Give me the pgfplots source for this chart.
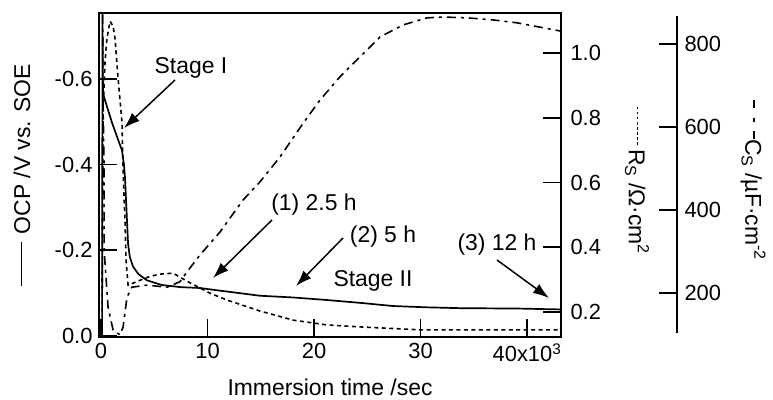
\documentclass[border=0pt]{standalone}
\usepackage{pgfplots}
\pgfplotsset{compat=1.18}
\usepackage{fontspec}
\setmainfont{Liberation Sans}
\usetikzlibrary{arrows.meta}

\newcommand{\solidkey}{\rule[0.34em]{1.9em}{0.07em}}
\newcommand{\dotkey}{\hbox to 1.9em{\leaders\hbox to 0.22em{\hss\rule[0.34em]{0.11em}{0.07em}\hss}\hfill}}
\newcommand{\dashdotkey}{\rule[0.34em]{0.35em}{0.07em}\hspace{0.42em}\rule[0.34em]{0.18em}{0.07em}\hspace{0.42em}\rule[0.34em]{0.35em}{0.07em}}

\pgfplotstableread{
t ocp
100 0.0
140 -0.77
170 -0.60
190 -0.565
500 -0.54
1000 -0.50
1500 -0.465
1970 -0.433
2150 -0.40
2250 -0.37
2400 -0.29
2540 -0.215
2700 -0.185
3000 -0.162
3500 -0.145
4300 -0.130
5700 -0.119
7500 -0.114
9300 -0.112
10800 -0.107
12400 -0.102
14900 -0.094
18000 -0.090
21200 -0.084
24500 -0.077
27400 -0.070
30500 -0.067
33700 -0.065
39300 -0.064
43200 -0.062
}\ocptable

\pgfplotstableread{
t rs
100 0.20
190 0.82
380 0.975
560 1.046
850 1.098
1130 1.083
1310 1.046
1600 0.923
1970 0.785
2070 0.637
2250 0.483
2350 0.36
2540 0.283
3000 0.289
3660 0.298
4600 0.310
5540 0.317
6760 0.320
8080 0.295
10240 0.258
11830 0.237
14930 0.203
18030 0.175
21220 0.160
24320 0.154
29950 0.145
39340 0.145
43200 0.145
}\rstable

\pgfplotstableread{
t cs
150 870
190 665
280 513
290 304
660 166
1130 111
1780 99
2070 118
2440 190
2900 214
4300 219
6200 214
7400 227
8080 251
9300 292
11170 347
13330 424
14930 468
16810 528
18870 605
20560 665
22440 721
24040 762
26200 817
28360 846
30610 863
32110 865
34370 863
36810 858
39060 851
42160 836
43190 831
}\cstable

\begin{document}
\begin{tikzpicture}[x=1bp,y=1bp]
\path[use as bounding box] (0,0) rectangle (773,399);
\pgfplotsset{
  common/.style={
    scale only axis,
    tick align=inside,
    major tick length=18bp,
    minor tick num=0,
    axis line style={line width=1.6pt},
    tick style={line width=1.6pt, black},
    ticklabel style={font=\fontsize{22}{26}\selectfont},
    scaled x ticks=false, scaled y ticks=false,
  }
}
% OCP axis
\begin{axis}[common,
  at={(99bp,62bp)}, anchor=south west, width=462bp, height=324bp,
  xmin=-190, xmax=43190, ymin=-0.7535, ymax=0.0023, y dir=reverse,
  xtick={0,10000,20000,30000,40000},
  xticklabels={0,10,20,30,40x10\textsuperscript{3}},
  ytick={-0.6,-0.4,-0.2,0}, yticklabels={-0.6,-0.4,-0.2,0.0},
  tick pos=left,
  yticklabel style={xshift=-3bp},
  xticklabel style={yshift=-3bp},
]
\addplot[black, line width=1.7pt] table[x=t,y=ocp] {\ocptable};
\end{axis}
% Rs axis
\begin{axis}[common,
  at={(99bp,62bp)}, anchor=south west, width=462bp, height=324bp,
  xmin=-190, xmax=43190, ymin=0.1228, ymax=1.1236,
  axis x line=none, axis y line*=right,
  ytick={0.2,0.4,0.6,0.8,1.0}, yticklabels={0.2,0.4,0.6,0.8,1.0},
  yticklabel style={xshift=6bp},
]
\addplot[black, line width=1.6pt, dash pattern=on 4pt off 3.5pt] table[x=t,y=rs] {\rstable};
\end{axis}
% Cs data axis
\begin{axis}[common,
  at={(99bp,62bp)}, anchor=south west, width=462bp, height=324bp,
  xmin=-190, xmax=43190, ymin=94, ymax=874.7,
  hide axis,
]
\addplot[black, line width=1.6pt, dash pattern=on 9pt off 5pt on 3pt off 5pt] table[x=t,y=cs] {\cstable};
\end{axis}
% Cs scale axis
\begin{axis}[common,
  at={(677bp,66bp)}, anchor=south east, width=20bp, height=317bp,
  xmin=0, xmax=1, ymin=103.6, ymax=867.5,
  axis x line=none, axis y line*=right,
  ytick={200,400,600,800}, yticklabels={200,400,600,800},
  yticklabel style={xshift=4bp},
]
\addplot[draw=none] coordinates {(0.5,500)};
\end{axis}
% axis labels
\node[rotate=90, font=\fontsize{23}{27}\selectfont, inner sep=0] at (22,224) {\solidkey\hspace{0.35em}OCP /V vs. SOE};
\node[rotate=-90, font=\fontsize{23}{27}\selectfont, inner sep=0] at (637,219) {\dotkey R\textsubscript{S} /Ω·cm\textsuperscript{2}};
\node[rotate=-90, font=\fontsize{23}{27}\selectfont, inner sep=0] at (753,219) {\dashdotkey C\textsubscript{S} /µF·cm\textsuperscript{-2}};
\node[anchor=base, font=\fontsize{23}{27}\selectfont, inner sep=0] at (330,4) {Immersion time /sec};
% annotations
\begin{scope}[every node/.style={anchor=base, font=\fontsize{23}{27}\selectfont, inner sep=0}]
\node at (191,326) {Stage I};
\node at (314,189) {(1) 2.5 h};
\node at (383,157) {(2) 5 h};
\node at (373,113) {Stage II};
\node at (497,149) {(3) 12 h};
\end{scope}
\begin{scope}[line width=1.5pt, -{Latex[length=16bp,width=11bp]}]
\draw (175,319) -- (124,271);
\draw (272,179) -- (213,121);
\draw (343,161) -- (296,113);
\draw (497,139) -- (549,101);
\end{scope}
\end{tikzpicture}
\end{document}
